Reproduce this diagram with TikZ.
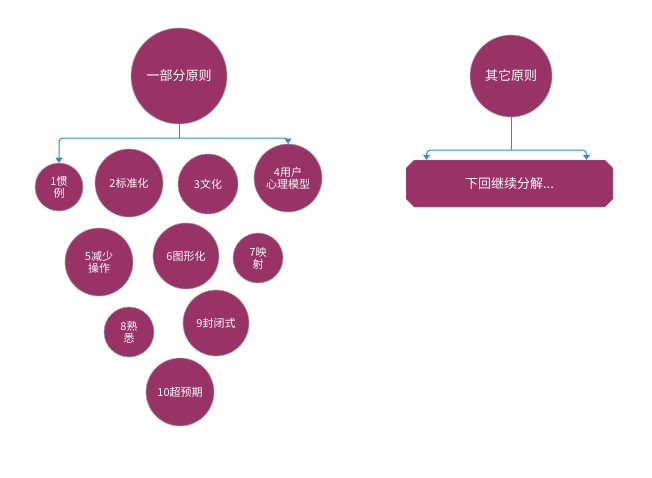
\documentclass[tikz,border=0pt]{standalone}
\usepackage{fontspec}
\setmainfont{Noto Sans CJK SC}
\usetikzlibrary{shapes.misc,arrows.meta}
\definecolor{plum}{HTML}{993366}
\definecolor{conn}{HTML}{2E8FC6}
\begin{document}
\begin{tikzpicture}[x=1pt,y=-1pt,
  ball/.style={circle,fill=plum,draw=gray!70,line width=0.6pt,text=white,inner sep=0pt,align=center,font=\fontsize{11}{12}\selectfont,minimum size=#1},
  link/.style={draw=conn,line width=1pt,rounded corners=4pt},
  tip/.style={-{Triangle[width=7pt,length=5pt]}}]
\useasboundingbox (0,0) rectangle (652,477);
\node[ball=96pt,font=\fontsize{13}{14}\selectfont] (a) at (179,76) {一部分原则};
\node[ball=82pt,font=\fontsize{13}{14}\selectfont] (b) at (511,76) {其它原则};
\node[ball=48pt] (c1) at (59,187) {1惯\\例};
\node[ball=68pt] (c2) at (129,183) {2标准化};
\node[ball=60pt] (c3) at (208,184) {3文化};
\node[ball=68pt] (c4) at (288,178) {4用户\\心理模型};
\node[ball=68pt] (c5) at (99,262) {5减少\\操作};
\node[ball=66pt] (c6) at (186,256) {6图形化};
\node[ball=50pt] (c7) at (258,258) {7映\\射};
\node[ball=50pt] (c8) at (129,332) {8熟\\悉};
\node[ball=66pt] (c9) at (216,323) {9封闭式};
\node[ball=68pt] (c10) at (180,392) {10超预期};
\node[draw=gray!70,fill=plum,text=white,font=\fontsize{13}{14}\selectfont,
  chamfered rectangle,chamfered rectangle xsep=4pt,chamfered rectangle ysep=4pt,
  minimum width=207pt,minimum height=47pt,inner sep=0pt] (box) at (509.5,183.5) {下回继续分解...};
\coordinate (j) at (179,138);
\draw[link] (a.south) -- (j);
\draw[link,tip] (j) -| (c1.north);
\draw[link,tip] (j) -| (c4.north);
\coordinate (k) at (511,150);
\draw[link] (b.south) -- (k);
\draw[link,tip] (k) -| ([xshift=-83pt]box.north);
\draw[link,tip] (k) -| ([xshift=77pt]box.north);
\end{tikzpicture}
\end{document}
